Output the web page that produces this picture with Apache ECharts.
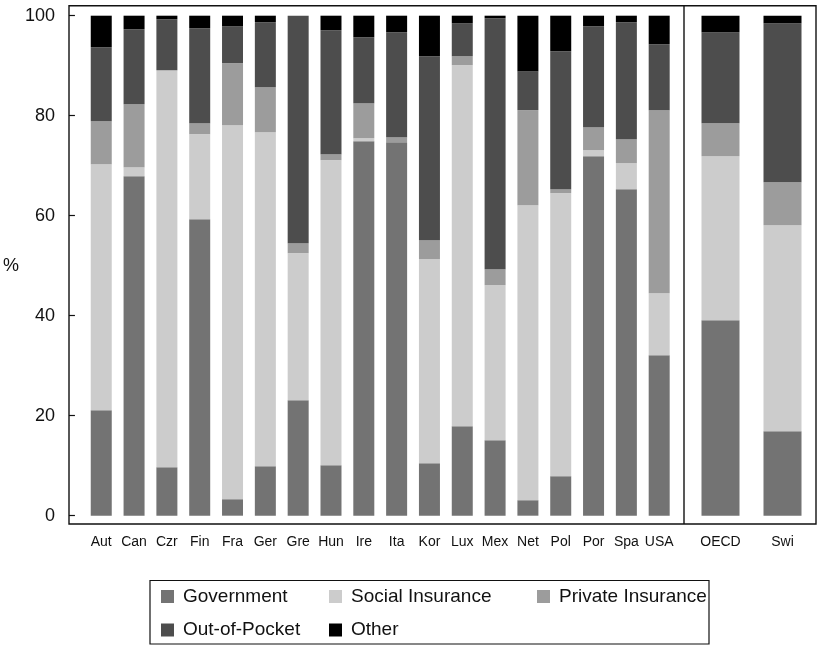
<!DOCTYPE html>
<html>
<head>
<meta charset="utf-8">
<title>Health expenditure by source of funds</title>
<script src="https://cdn.jsdelivr.net/npm/echarts@6/dist/echarts.min.js"></script>
<style>
  html, body { margin: 0; padding: 0; background: #fff; }
  #chart { width: 817px; height: 646px; }
</style>
</head>
<body>
<div id="chart"></div>
<script>
// Countries (left panel) and comparison group (right panel)
const countries = ['Aut', 'Can', 'Czr', 'Fin', 'Fra', 'Ger', 'Gre', 'Hun', 'Ire', 'Ita',
                   'Kor', 'Lux', 'Mex', 'Net', 'Pol', 'Por', 'Spa', 'USA'];
const groups = ['OECD', 'Swi'];

// Share of health spending by source, % (countries)
const government       = [21.1, 67.9, 9.7, 59.3, 3.3, 9.9, 23.1, 10.1, 74.9, 74.7, 10.5, 17.9, 15.1, 3.1, 7.9, 71.9, 65.3, 32.1];
const socialInsurance  = [49.2, 1.8, 79.4, 17.0, 74.8, 66.8, 29.4, 61.0, 0.6, 0.0, 40.8, 72.2, 31.0, 59.0, 56.6, 1.2, 5.2, 12.4];
const privateInsurance = [8.6, 12.6, 0.0, 2.2, 12.4, 9.0, 2.0, 1.2, 7.0, 1.0, 3.8, 1.8, 3.2, 19.0, 0.8, 4.6, 4.8, 36.6];
const outOfPocket      = [14.8, 15.0, 10.2, 19.0, 7.4, 13.0, 45.5, 24.8, 13.2, 21.0, 36.8, 6.6, 50.2, 7.8, 27.6, 20.2, 23.4, 13.2];
const other            = [6.3, 2.7, 0.7, 2.5, 2.1, 1.3, 0.0, 2.9, 4.3, 3.3, 8.1, 1.5, 0.5, 11.1, 7.1, 2.1, 1.3, 5.7];

// Share of health spending by source, % (OECD average, Switzerland)
const governmentG       = [39.1, 16.9];
const socialInsuranceG  = [32.8, 41.2];
const privateInsuranceG = [6.6, 8.6];
const outOfPocketG      = [18.2, 31.8];
const otherG            = [3.3, 1.5];

const yTicks = [0, 20, 40, 60, 80, 100];

const seriesNames = ['Government', 'Social Insurance', 'Private Insurance', 'Out-of-Pocket', 'Other'];
const seriesColors = ['#737373', '#cccccc', '#9c9c9c', '#4d4d4d', '#000000'];
const leftData = [government, socialInsurance, privateInsurance, outOfPocket, other];
const rightData = [governmentG, socialInsuranceG, privateInsuranceG, outOfPocketG, otherG];

const FONT = '"Liberation Sans", Arial, Helvetica, sans-serif';

const series = [];
seriesNames.forEach((name, i) => {
  series.push({
    name, type: 'bar', stack: 'countries', xAxisIndex: 0, yAxisIndex: 0,
    barWidth: 21, data: leftData[i], itemStyle: { color: seriesColors[i] }
  });
});
seriesNames.forEach((name, i) => {
  series.push({
    name, type: 'bar', stack: 'groups', xAxisIndex: 1, yAxisIndex: 1,
    barWidth: 38, data: rightData[i], itemStyle: { color: seriesColors[i] }
  });
});

// One vertical legend per column so the two rows line up
const legendBase = {
  orient: 'vertical',
  top: 586.5,
  width: 220,
  height: 120,
  padding: 0,
  itemWidth: 13,
  itemHeight: 13,
  itemGap: 13.5,
  icon: 'rect',
  selectedMode: false,
  textStyle: { fontFamily: FONT, fontSize: 19, color: '#111', lineHeight: 20, padding: [0, 0, 0, 4] }
};

const xAxisBase = {
  type: 'category',
  axisLine: { show: false },
  axisTick: { show: false },
  axisLabel: { fontFamily: FONT, fontSize: 14, color: '#111', margin: 19, interval: 0 }
};

const option = {
  animation: false,
  backgroundColor: '#fff',
  grid: [
    { left: 78.9, top: 15.7, width: 596.7, height: 500 },
    { left: 689.5, top: 15.7, width: 124, height: 500 }
  ],
  xAxis: [
    Object.assign({ gridIndex: 0, data: countries }, xAxisBase),
    Object.assign({ gridIndex: 1, data: groups }, xAxisBase)
  ],
  yAxis: [
    {
      gridIndex: 0, type: 'value', min: yTicks[0], max: yTicks[yTicks.length - 1], interval: 20,
      offset: 9.9,
      name: '%', nameLocation: 'middle', nameRotate: 0, nameGap: 52,
      nameTextStyle: { fontFamily: FONT, fontSize: 18, color: '#111' },
      axisLine: { show: false },
      axisTick: { show: true, length: 6, lineStyle: { color: '#111', width: 1.2 } },
      axisLabel: { fontFamily: FONT, fontSize: 18, color: '#111', margin: 20 },
      splitLine: { show: false }
    },
    {
      gridIndex: 1, type: 'value', min: 0, max: 100, interval: 20, show: false,
      splitLine: { show: false }
    }
  ],
  legend: [
    Object.assign({ left: 161, data: ['Government', 'Out-of-Pocket'] }, legendBase),
    Object.assign({ left: 329, data: ['Social Insurance', 'Other'] }, legendBase),
    Object.assign({ left: 537, data: ['Private Insurance'] }, legendBase)
  ],
  graphic: [
    {
      type: 'rect', silent: true, z: 100,
      shape: { x: 69, y: 5.7, width: 747, height: 518.3 },
      style: { fill: 'none', stroke: '#111', lineWidth: 1.4 }
    },
    {
      type: 'line', silent: true, z: 100,
      shape: { x1: 684, y1: 5.7, x2: 684, y2: 524 },
      style: { stroke: '#111', lineWidth: 1.4 }
    },
    {
      type: 'rect', silent: true, z: 100,
      shape: { x: 150, y: 580.5, width: 559, height: 63.5 },
      style: { fill: 'none', stroke: '#111', lineWidth: 1.2 }
    }
  ],
  series
};

const chart = echarts.init(document.getElementById('chart'), null, { renderer: 'canvas' });
chart.setOption(option);
</script>
</body>
</html>
